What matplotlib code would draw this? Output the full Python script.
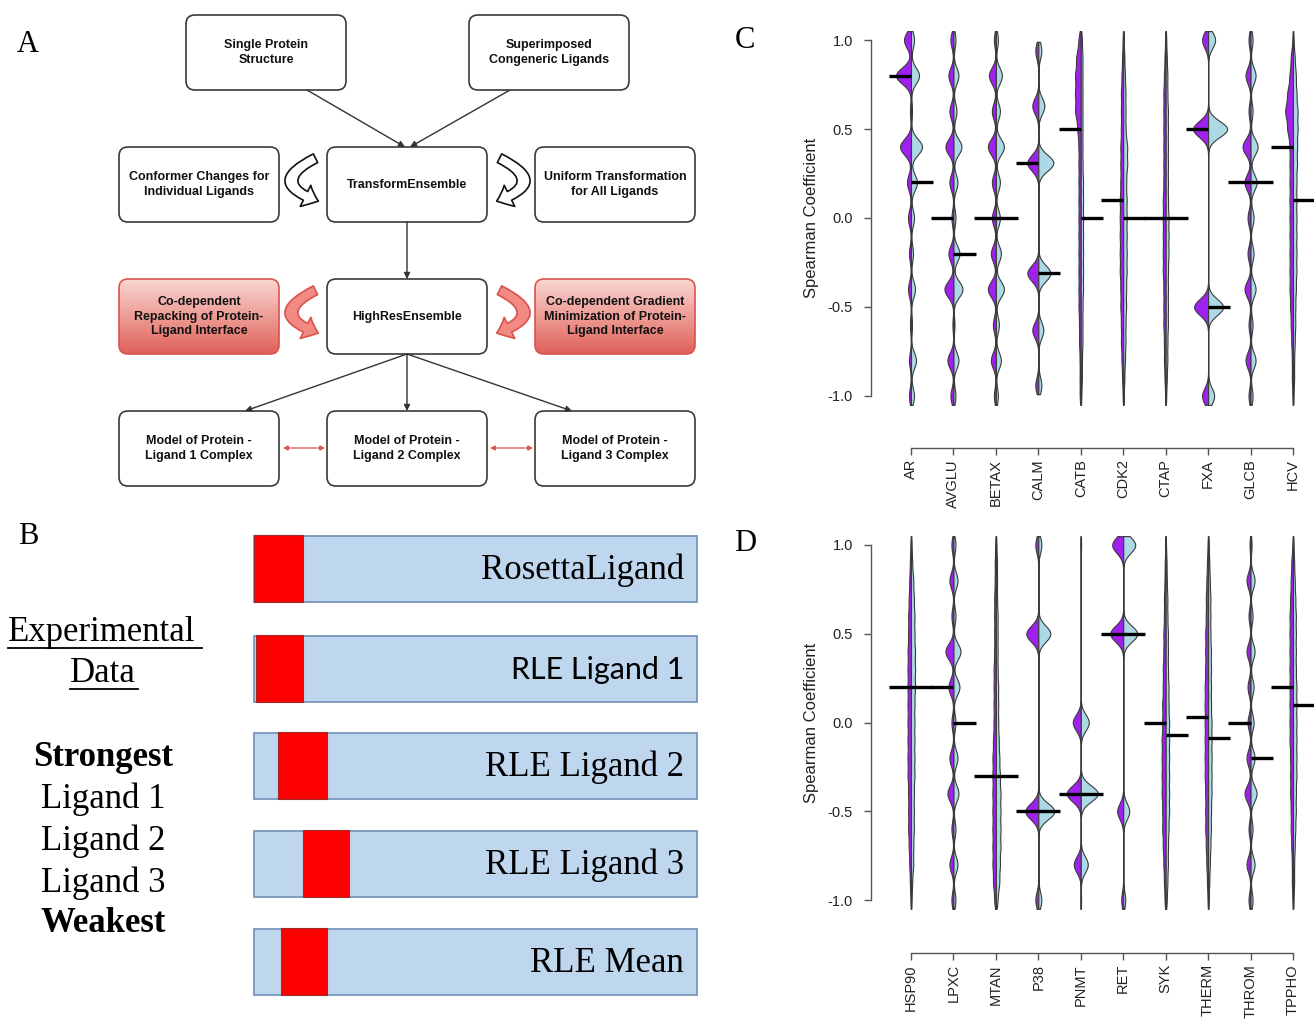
import numpy as np
import matplotlib
matplotlib.use("Agg")
import matplotlib.pyplot as plt
from matplotlib.patches import FancyBboxPatch, FancyArrowPatch, Rectangle
from matplotlib.colors import LinearSegmentedColormap

# ---------------- DATA ----------------
# Spearman levels (top -> bottom) at which the bean counts are given
LEVELS = [1.0, 0.9, 0.8, 0.7, 0.6, 0.5, 0.4, 0.3, 0.2, 0.1, 0.0,
          -0.1, -0.2, -0.3, -0.4, -0.5, -0.6, -0.7, -0.8, -0.9, -1.0]
LEVELS_CALM = [0.94, 0.63, 0.31, -0.31, -0.63, -0.94]

TARGETS_C = ["AR", "AVGLU", "BETAX", "CALM", "CATB", "CDK2", "CTAP", "FXA", "GLCB", "HCV"]
TARGETS_D = ["HSP90", "LPXC", "MTAN", "P38", "PNMT", "RET", "SYK", "THERM", "THROM", "TPPHO"]

# purple (left half) bean weights
PURPLE_C = {
    "AR":    [7, 0, 15, 0, 1, 0, 11, 0, 4, 0, 3, 0, 2, 0, 3, 0, 1, 0, 2, 0, 2],
    "AVGLU": [3, 0, 5, 0, 4, 0, 8, 0, 4, 0, 2, 0, 5, 0, 9, 0, 1, 0, 6, 0, 3],
    "BETAX": [2, 0, 7, 0, 4, 0, 8, 0, 4, 0, 4, 0, 5, 0, 8, 0, 3, 0, 5, 0, 2],
    "CALM":  [3, 6, 11, 11, 6, 3],
    "CATB":  [2, 4, 5, 5, 5, 3, 2, 2, 2, 2, 2, 2, 2, 2, 2, 2, 1.5, 1.5, 1, 1, 1],
    "CDK2":  [0.5, 1, 1.5, 2, 2, 2, 2.5, 2.5, 2.5, 3, 3, 3, 3, 3, 2.5, 2.5, 2, 2, 1.5, 1, 0.5],
    "CTAP":  [0.5, 1, 1.5, 2, 2, 2, 2, 2, 2, 2.5, 2.5, 2.5, 2.5, 2.5, 2, 2, 2, 1.5, 1.5, 1, 0.5],
    "FXA":   [6, 0, 0, 0, 0, 15, 0, 0, 0, 0, 0, 0, 0, 0, 0, 14, 0, 0, 0, 0, 6],
    "GLCB":  [2, 0, 5, 0, 2, 0, 8, 0, 6, 0, 3, 0, 3, 0, 6, 0, 2, 0, 5, 0, 2],
    "HCV":   [0.5, 2, 3, 5, 7, 5, 3, 3, 3, 3, 3, 3, 3, 3, 3, 2.5, 2, 1.5, 1, 1, 0.5],
}
# light-blue (right half) bean weights
BLUE_C = {
    "AR":    [3, 0, 8, 0, 1, 0, 11, 0, 6, 0, 3, 0, 2, 0, 4, 0, 1, 0, 5, 0, 3],
    "AVGLU": [2, 0, 5, 0, 3, 0, 8, 0, 4, 0, 2, 0, 6, 0, 9, 0, 1, 0, 5, 0, 2],
    "BETAX": [2, 0, 6, 0, 4, 0, 8, 0, 4, 0, 4, 0, 5, 0, 8, 0, 3, 0, 5, 0, 2],
    "CALM":  [3, 6, 15, 12, 5, 3],
    "CATB":  [1, 1.5, 1.5, 1.5, 1.5, 1.5, 1.5, 1.5, 2, 2, 2, 2, 2, 2, 2, 1.5, 1.5, 1.5, 1, 1, 0.5],
    "CDK2":  [0.5, 1, 1.5, 2, 2, 2, 3.5, 3.5, 2.5, 3, 3, 3, 3, 3, 2.5, 2.5, 2, 2, 1.5, 1, 0.5],
    "CTAP":  [0.5, 1, 1.5, 1.5, 2, 2, 2, 2, 2, 2, 2.5, 2.5, 2.5, 2, 2, 2, 2, 1.5, 1.5, 1, 0.5],
    "FXA":   [7, 0, 0, 0, 0, 19, 0, 0, 0, 0, 0, 0, 0, 0, 0, 15, 0, 0, 0, 0, 6],
    "GLCB":  [2, 0, 5, 0, 2, 0, 7, 0, 6, 0, 3, 0, 3, 0, 5, 0, 2, 0, 5, 0, 2],
    "HCV":   [0.5, 1.5, 2.5, 3, 4, 4, 3.5, 3.5, 3, 3, 3, 3, 3, 3, 2.5, 2, 2, 1.5, 1, 1, 0.5],
}
PURPLE_D = {
    "HSP90": [0.5, 1, 1.5, 2, 2.5, 2.5, 3, 3, 3, 3, 3, 3, 3, 3, 2.5, 2.5, 2.5, 2, 1.5, 1, 0.5],
    "LPXC":  [2, 0, 4, 0, 2, 0, 8, 0, 5, 0, 2, 0, 4, 0, 6, 0, 2, 0, 4, 0, 2],
    "MTAN":  [0.5, 1, 1, 1.5, 1.5, 1.5, 1.5, 2, 2, 2, 2, 2.5, 3, 3, 3, 3, 3, 3, 3, 2.5, 1.5],
    "P38":   [3, 0, 0, 0, 0, 12, 0, 0, 0, 0, 0, 0, 0, 0, 0, 13, 0, 0, 0, 0, 3],
    "PNMT":  [0.3, 0, 0, 0, 0, 0, 0, 0, 0, 0, 8, 0, 0, 0, 14, 0, 0, 0, 7, 0, 0.3],
    "RET":   [11, 0, 0, 0, 0, 13, 0, 0, 0, 0, 0, 0, 0, 0, 0, 6, 0, 0, 0, 0, 2],
    "SYK":   [0.3, 0.8, 1, 1.5, 1.5, 2, 2, 2.5, 2.5, 3, 3, 3.5, 3.5, 3.5, 3.5, 3, 3, 2.5, 2, 1.5, 1],
    "THERM": [0.5, 1, 1.5, 2, 2, 2.5, 2.5, 2.5, 3, 3, 3, 3, 3, 3, 2.5, 2.5, 2.5, 2, 1.5, 1, 0.5],
    "THROM": [1, 0, 4, 0, 2, 0, 4, 0, 3, 0, 3, 0, 4, 0, 6, 0, 2, 0, 4, 0, 2],
    "TPPHO": [0.5, 1.5, 2, 2.5, 3, 3, 3, 3, 3, 3, 3, 3, 2.5, 2.5, 2.5, 2, 2, 1.5, 1, 1, 0.5],
}
BLUE_D = {
    "HSP90": [0.5, 1, 2, 2.5, 3, 3, 3.5, 3.5, 3.5, 3, 3, 3, 3, 3, 2.5, 2.5, 2.5, 2, 2, 1, 0.5],
    "LPXC":  [2, 0, 4, 0, 2, 0, 7, 0, 6, 0, 2, 0, 4, 0, 5, 0, 2, 0, 4, 0, 2],
    "MTAN":  [0.5, 1, 1, 1, 1.5, 1.5, 1.5, 1.5, 2, 2, 2, 2.5, 3, 3.5, 4, 4, 4, 4, 3.5, 3, 1.5],
    "P38":   [3, 0, 0, 0, 0, 12, 0, 0, 0, 0, 0, 0, 0, 0, 0, 16, 0, 0, 0, 0, 3],
    "PNMT":  [0.3, 0, 0, 0, 0, 0, 0, 0, 0, 0, 8, 0, 0, 0, 17, 0, 0, 0, 7, 0, 0.3],
    "RET":   [12, 0, 0, 0, 0, 14, 0, 0, 0, 0, 0, 0, 0, 0, 0, 6, 0, 0, 0, 0, 2],
    "SYK":   [0.3, 0.8, 1, 1.5, 1.5, 2, 2, 2, 2.5, 2.5, 3, 3, 3, 3, 3, 3, 2.5, 2, 2, 1.5, 1],
    "THERM": [0.5, 1, 1.5, 2, 2, 2, 2.5, 2.5, 2.5, 2.5, 3, 3, 3, 3, 3, 2.5, 2.5, 2, 1.5, 1, 0.5],
    "THROM": [1, 0, 4, 0, 2, 0, 4, 0, 3, 0, 3, 0, 4, 0, 6, 0, 2, 0, 4, 0, 2],
    "TPPHO": [0.5, 1, 1.5, 2, 2.5, 2.5, 2.5, 2.5, 3, 3, 3, 3, 3, 3, 2.5, 2.5, 2, 1.5, 1, 1, 0.5],
}
# bean lines (left = purple half, right = blue half)
LINE_PURPLE_C = [0.8, 0.0, 0.0, 0.31, 0.5, 0.1, 0.0, 0.5, 0.2, 0.4]
LINE_BLUE_C = [0.2, -0.2, 0.0, -0.31, 0.0, 0.0, 0.0, -0.5, 0.2, 0.1]
LINE_PURPLE_D = [0.2, 0.2, -0.3, -0.5, -0.4, 0.5, 0.0, 0.03, 0.0, 0.2]
LINE_BLUE_D = [0.2, 0.0, -0.3, -0.5, -0.4, 0.5, -0.07, -0.09, -0.2, 0.1]

# Panel B schematic
B_LABELS = ["RosettaLigand", "RLE Ligand 1", "RLE Ligand 2", "RLE Ligand 3", "RLE Mean"]
B_RED_START = [0.0, 0.5, 5.5, 11.0, 6.0]   # position of red block along the bar (0-100)
B_RED_WIDTH = [11.0, 10.5, 11.0, 10.5, 10.5]
B_RANK_TEXT = ["Strongest", "Ligand 1", "Ligand 2", "Ligand 3", "Weakest"]

# ---------------- FIGURE ----------------
W, H = 1314, 1021
fig = plt.figure(figsize=(W / 100, H / 100), dpi=100)
fig.patch.set_facecolor("white")
ov = fig.add_axes([0, 0, 1, 1])
ov.set_xlim(0, W)
ov.set_ylim(H, 0)
ov.axis("off")

SERIF = "Liberation Serif"
SANS = "Liberation Sans"

# panel letters
for lab, (x, y) in zip("ABCD", [(28, 45), (28, 536), (745, 40), (745, 543)]):
    ov.text(x, y, lab, fontsize=22, family=SERIF, ha="center", va="center")

# ---------------- PANEL A ----------------
BOX_W, BOX_H = 160, 75
boxes = {
    "sps": (186, 15, "Single Protein\nStructure", False),
    "scl": (469, 15, "Superimposed\nCongeneric Ligands", False),
    "conf": (119, 147, "Conformer Changes for\nIndividual Ligands", False),
    "te": (327, 147, "TransformEnsemble", False),
    "uni": (535, 147, "Uniform Transformation\nfor All Ligands", False),
    "rep": (119, 279, "Co-dependent\nRepacking of Protein-\nLigand Interface", True),
    "hre": (327, 279, "HighResEnsemble", False),
    "min": (535, 279, "Co-dependent Gradient\nMinimization of Protein-\nLigand Interface", True),
    "m1": (119, 411, "Model of Protein -\nLigand 1 Complex", False),
    "m2": (327, 411, "Model of Protein -\nLigand 2 Complex", False),
    "m3": (535, 411, "Model of Protein -\nLigand 3 Complex", False),
}
red_cmap = LinearSegmentedColormap.from_list("redgrad", ["#F8D6D2", "#EE9C95", "#E0605A"])
grad = np.linspace(0, 1, 100).reshape(-1, 1)
for key, (x0, y0, txt, red) in boxes.items():
    if red:
        patch = FancyBboxPatch((x0, y0), BOX_W, BOX_H,
                               boxstyle="round,pad=0,rounding_size=9",
                               fc="none", ec="#D9534F", lw=1.2, zorder=3)
        ov.add_patch(patch)
        im = ov.imshow(grad, extent=(x0, x0 + BOX_W, y0 + BOX_H, y0), origin="upper",
                       cmap=red_cmap, aspect="auto", zorder=2)
        im.set_clip_path(patch)
    else:
        patch = FancyBboxPatch((x0, y0), BOX_W, BOX_H,
                               boxstyle="round,pad=0,rounding_size=9",
                               fc="white", ec="#3a3a3a", lw=1.2, zorder=2)
        ov.add_patch(patch)
    ov.text(x0 + BOX_W / 2, y0 + BOX_H / 2, txt, ha="center", va="center",
            fontsize=9, fontweight="bold", family=SANS, linespacing=1.25, zorder=4,
            color="#111111")
ov.set_xlim(0, W)
ov.set_ylim(H, 0)


def arrow(p0, p1, color="#333333", style="-|>", lw=1.0, ms=9):
    ov.annotate("", xy=p1, xytext=p0,
                arrowprops=dict(arrowstyle=style, color=color, lw=lw, mutation_scale=ms,
                                shrinkA=0, shrinkB=0), zorder=5)


arrow((307, 90), (405, 147))
arrow((510, 90), (410, 147))
arrow((407, 222), (407, 279))
arrow((407, 354), (245, 411))
arrow((407, 354), (407, 411))
arrow((407, 354), (572, 411))
arrow((283, 448), (325, 448), color="#D9534F", style="<|-|>", lw=0.9, ms=7)
arrow((490, 448), (533, 448), color="#D9534F", style="<|-|>", lw=0.9, ms=7)

# curved hollow arrows
cstyle = "simple,head_width=1.7,head_length=1.0,tail_width=0.7"
for (xa, xb, rad), y0 in [((318, 321, 1.25), 157), ((497, 494, -1.25), 157)]:
    ov.add_patch(FancyArrowPatch((xa, y0), (xb, y0 + 45), connectionstyle=f"arc3,rad={rad}",
                                 arrowstyle=cstyle, mutation_scale=10, fc="white",
                                 ec="#111111", lw=1.2, zorder=5))
for (xa, xb, rad), y0 in [((318, 321, 1.25), 289), ((497, 494, -1.25), 289)]:
    ov.add_patch(FancyArrowPatch((xa, y0), (xb, y0 + 45), connectionstyle=f"arc3,rad={rad}",
                                 arrowstyle=cstyle, mutation_scale=10, fc="#F08A82",
                                 ec="#D9534F", lw=1.2, zorder=5))

# ---------------- PANEL B ----------------
BAR_X0, BAR_X1 = 254, 697
bar_tops = [536, 636, 733, 831, 929]
BAR_H = 66
unit = (BAR_X1 - BAR_X0) / 100.0
for i, lab in enumerate(B_LABELS):
    y0 = bar_tops[i]
    ov.add_patch(Rectangle((BAR_X0, y0), BAR_X1 - BAR_X0, BAR_H, fc="#BFD7EE",
                           ec="#6F8FB5", lw=1.2, zorder=2))
    ov.add_patch(Rectangle((BAR_X0 + B_RED_START[i] * unit, y0 - 1),
                           B_RED_WIDTH[i] * unit, BAR_H + 1, fc="#FF0000",
                           ec="#9E2A2A", lw=0.8, zorder=3))
    if lab == "RLE Ligand 1":
        ov.text(684, y0 + BAR_H / 2 + 1, lab, ha="right", va="center", fontsize=22,
                family="Lato", zorder=4)
    else:
        ov.text(684, y0 + BAR_H / 2 + 1, lab, ha="right", va="center", fontsize=25,
                family=SERIF, zorder=4)

ov.text(8, 632, "Experimental", ha="left", va="center", fontsize=25, family=SERIF)
ov.plot([8, 202], [648, 648], color="black", lw=1.3)
ov.text(103, 673, "Data", ha="center", va="center", fontsize=25, family=SERIF)
ov.plot([70, 138], [689, 689], color="black", lw=1.3)
for j, (txt, yy) in enumerate(zip(B_RANK_TEXT, [757, 799, 841, 883, 923])):
    bold = txt in ("Strongest", "Weakest")
    ov.text(103, yy, txt, ha="center", va="center", fontsize=25, family=SERIF,
            fontweight="bold" if bold else "normal")

# ---------------- PANELS C & D (bean plots) ----------------
PURPLE = "#A020F0"
LIGHTBLUE = "#ADD8E6"
BW = 0.045
PX_PER_X = 42.44
XLIM = (1 - 40 / PX_PER_X, 10 + 21 / PX_PER_X)


def bean_axes(top_px, bottom_px, outward_px):
    ax = fig.add_axes([871 / W, 1 - bottom_px / H, (W - 871) / W, (bottom_px - top_px) / H])
    ax.set_facecolor("none")
    ax.set_xlim(*XLIM)
    ax.set_ylim(-1.09, 1.09)
    for s in ("top", "right"):
        ax.spines[s].set_visible(False)
    ax.spines["left"].set_bounds(-1, 1)
    ax.spines["bottom"].set_bounds(1, 10)
    ax.spines["bottom"].set_position(("outward", outward_px * 0.72))
    for s in ("left", "bottom"):
        ax.spines[s].set_color("#555555")
        ax.spines[s].set_linewidth(1.0)
    ax.set_yticks([-1, -0.5, 0, 0.5, 1])
    ax.set_yticklabels(["-1.0", "-0.5", "0.0", "0.5", "1.0"], family=SANS, fontsize=10.5,
                       color="#222222")
    ax.tick_params(axis="both", direction="out", length=5, width=1, color="#555555")
    ax.tick_params(axis="y", pad=8)
    ax.tick_params(axis="x", pad=3)
    ax.set_ylabel("Spearman Coefficient", family=SANS, fontsize=12, color="#222222")
    ax.yaxis.set_label_coords(-0.118, 0.5)
    return ax


def density(levels, counts, y):
    d = np.zeros_like(y)
    for v, c in zip(levels, counts):
        if c > 0:
            d += c * np.exp(-0.5 * ((y - v) / BW) ** 2)
    return d


def draw_beans(ax, targets, purple, blue, lp, lb):
    for i, t in enumerate(targets):
        xc = i + 1
        levels = LEVELS_CALM if t == "CALM" else LEVELS
        pc, bc = purple[t], blue[t]
        nz = [v for v, a, b in zip(levels, pc, bc) if a > 0 or b > 0]
        lo, hi = min(nz) - 0.05, max(nz) + 0.05
        y = np.linspace(lo, hi, 600)
        wl = density(levels, pc, y) / PX_PER_X
        wr = density(levels, bc, y) / PX_PER_X
        ax.fill_betweenx(y, xc - wl, xc, fc=PURPLE, ec="#3a3a3a", lw=0.8, zorder=2)
        ax.fill_betweenx(y, xc, xc + wr, fc=LIGHTBLUE, ec="#3a3a3a", lw=0.8, zorder=2)
        ax.hlines(lp[i], xc - 0.52, xc, color="black", lw=2.4, zorder=3)
        ax.hlines(lb[i], xc, xc + 0.52, color="black", lw=2.4, zorder=3)
    ax.set_xticks(range(1, len(targets) + 1))
    ax.set_xticklabels(targets, rotation=90, family=SANS, fontsize=10.5, color="#222222")


axC = bean_axes(24, 412, 36)
draw_beans(axC, TARGETS_C, PURPLE_C, BLUE_C, LINE_PURPLE_C, LINE_BLUE_C)
axD = bean_axes(529, 916, 37)
draw_beans(axD, TARGETS_D, PURPLE_D, BLUE_D, LINE_PURPLE_D, LINE_BLUE_D)

fig.savefig("out.png", dpi=100)
